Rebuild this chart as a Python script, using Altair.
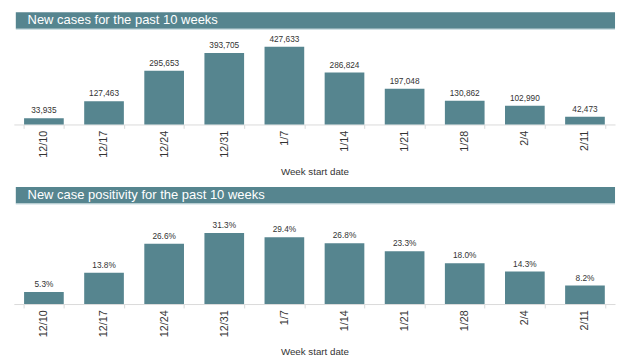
import altair as alt
import pandas as pd

weeks = ["12/10", "12/17", "12/24", "12/31", "1/7", "1/14", "1/21", "1/28", "2/4", "2/11"]
new_cases = [33935, 127463, 295653, 393705, 427633, 286824, 197048, 130862, 102990, 42473]
positivity = [5.3, 13.8, 26.6, 31.3, 29.4, 26.8, 23.3, 18.0, 14.3, 8.2]
panel_titles = ["New cases for the past 10 weeks", "New case positivity for the past 10 weeks"]
x_title = "Week start date"

TEAL = "#56858F"
TEXT = "#333333"
GRID = "#d9d9d9"
FONT = "Liberation Sans"
W = 616
H = 93


def panel(field, values, ymax, label_expr, title, b_top, b_bot):
    df = pd.DataFrame({"week": weeks, field: values})
    x = alt.X(
        "week:N",
        sort=weeks,
        scale=alt.Scale(paddingInner=0.34, paddingOuter=0.17),
        axis=alt.Axis(
            title=x_title,
            labelAngle=-90,
            labelFontSize=11,
            labelFont=FONT,
            labelColor=TEXT,
            labelPadding=2,
            tickSize=4,
            tickColor=GRID,
            domainColor=GRID,
            tickBand="extent",
            titleFont=FONT,
            titleFontSize=10,
            titleFontWeight="normal",
            titleColor=TEXT,
            titlePadding=10,
        ),
    )
    y = alt.Y(f"{field}:Q", scale=alt.Scale(domain=[0, ymax]), axis=None)
    base = alt.Chart(df).encode(x=x, y=y)
    bars = base.mark_bar(color=TEAL)
    labels = base.transform_calculate(label=label_expr).mark_text(
        dy=-3, baseline="bottom", fontSize=8.5, font=FONT, color=TEXT
    ).encode(text="label:N")
    bdf = pd.DataFrame({"t": [title]})
    banner = alt.Chart(bdf).mark_rect(color=TEAL).encode(
        x=alt.value(2), x2=alt.value(W), y=alt.value(b_top), y2=alt.value(b_bot)
    )
    edge = alt.Chart(bdf).mark_rule(color="#c5d9de", strokeWidth=1).encode(
        x=alt.value(2), x2=alt.value(W), y=alt.value(b_bot + 0.5)
    )
    btext = alt.Chart(bdf).mark_text(
        align="left", baseline="middle", color="white", fontSize=13.3, font=FONT
    ).encode(x=alt.value(14), y=alt.value((b_top + b_bot) / 2), text="t:N")
    return alt.layer(banner, edge, bars, labels, btext).properties(width=W, height=H)


top = panel("cases", new_cases, 500000, "format(datum.cases, ',')", panel_titles[0], -22, -5)
bottom = panel("pos", positivity, 40, "format(datum.pos, '.1f') + '%'", panel_titles[1], -27, -10)

chart = (
    alt.vconcat(top, bottom, spacing=10)
    .resolve_scale(y="independent")
    .properties(padding=0)
    .configure_view(stroke=None)
)

chart.save("out.html", embed_options={"renderer": "svg", "actions": False})
